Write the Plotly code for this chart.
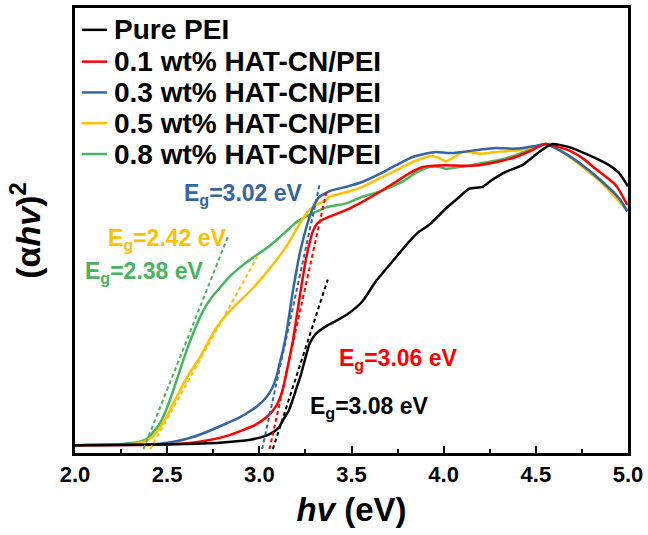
import plotly.graph_objects as go

# Tauc plot data: photon energy (eV) vs normalised (alpha*h*nu)^2
pei_x = [2.00, 2.30, 2.60, 2.80, 2.95, 3.03, 3.08, 3.11, 3.13, 3.16, 3.18, 3.205, 3.227, 3.25,
         3.272, 3.30, 3.326, 3.37, 3.417, 3.489, 3.561, 3.633, 3.723, 3.814, 3.868, 3.922,
         4.012, 4.08, 4.139, 4.211, 4.26, 4.337, 4.427, 4.518, 4.590, 4.680, 4.788, 4.897,
         4.95, 5.00]
pei_y = [0.000, 0.001, 0.004, 0.009, 0.018, 0.030, 0.045, 0.062, 0.085, 0.115, 0.149, 0.195,
         0.237, 0.290, 0.336, 0.365, 0.380, 0.398, 0.413, 0.440, 0.479, 0.545, 0.611, 0.677,
         0.710, 0.732, 0.786, 0.822, 0.852, 0.858, 0.880, 0.908, 0.930, 0.974, 1.000, 0.990,
         0.963, 0.930, 0.905, 0.860]

hat01_x = [2.00, 2.45, 2.55, 2.65, 2.731, 2.82, 2.911, 2.98, 3.038, 3.07, 3.10, 3.125, 3.146,
           3.164, 3.182, 3.20, 3.218, 3.236, 3.254, 3.272, 3.29, 3.308, 3.326, 3.381, 3.489,
           3.561, 3.65, 3.742, 3.82, 3.886, 4.012, 4.10, 4.193, 4.30, 4.391, 4.47, 4.554,
           4.680, 4.760, 4.824, 4.933, 4.996]
hat01_y = [0.000, 0.001, 0.004, 0.009, 0.017, 0.030, 0.050, 0.068, 0.093, 0.112, 0.140, 0.180,
           0.237, 0.290, 0.347, 0.418, 0.489, 0.558, 0.621, 0.670, 0.710, 0.731, 0.743, 0.759,
           0.786, 0.809, 0.840, 0.875, 0.905, 0.924, 0.930, 0.928, 0.930, 0.942, 0.957, 0.977,
           1.000, 0.979, 0.950, 0.918, 0.864, 0.798]

hat03_x = [2.00, 2.35, 2.46, 2.55, 2.64, 2.73, 2.821, 2.88, 2.93, 2.99, 3.038, 3.07, 3.092,
           3.11, 3.13, 3.146, 3.164, 3.182, 3.20, 3.218, 3.236, 3.254, 3.272, 3.29, 3.308,
           3.326, 3.381, 3.47, 3.561, 3.65, 3.742, 3.832, 3.90, 3.958, 4.03, 4.102, 4.20,
           4.283, 4.391, 4.50, 4.554, 4.644, 4.752, 4.86, 4.951, 4.996]
hat03_y = [0.000, 0.001, 0.005, 0.013, 0.027, 0.048, 0.072, 0.088, 0.105, 0.130, 0.159, 0.190,
           0.225, 0.270, 0.320, 0.369, 0.440, 0.512, 0.575, 0.633, 0.680, 0.721, 0.757, 0.787,
           0.810, 0.825, 0.844, 0.858, 0.875, 0.900, 0.930, 0.957, 0.968, 0.974, 0.970, 0.974,
           0.982, 0.987, 0.985, 0.994, 1.000, 0.974, 0.930, 0.875, 0.820, 0.776]

hat05_x = [2.00, 2.226, 2.30, 2.352, 2.39, 2.424, 2.46, 2.496, 2.53, 2.568, 2.62, 2.677, 2.72,
           2.767, 2.81, 2.857, 2.91, 2.965, 3.02, 3.074, 3.12, 3.164, 3.20, 3.236, 3.27, 3.309,
           3.363, 3.381, 3.47, 3.561, 3.65, 3.742, 3.83, 3.922, 3.97, 4.012, 4.06, 4.102,
           4.211, 4.30, 4.391, 4.47, 4.554, 4.644, 4.752, 4.86, 4.951, 4.996]
hat05_y = [0.000, 0.001, 0.003, 0.008, 0.016, 0.030, 0.058, 0.093, 0.135, 0.180, 0.238, 0.291,
           0.340, 0.390, 0.425, 0.456, 0.488, 0.522, 0.560, 0.600, 0.637, 0.677, 0.716, 0.753,
           0.780, 0.798, 0.814, 0.825, 0.840, 0.858, 0.885, 0.913, 0.940, 0.960, 0.955, 0.943,
           0.958, 0.974, 0.968, 0.975, 0.979, 0.988, 1.000, 0.974, 0.925, 0.870, 0.810, 0.780]

hat08_x = [2.00, 2.20, 2.28, 2.34, 2.388, 2.42, 2.46, 2.50, 2.532, 2.57, 2.605, 2.65, 2.695,
           2.74, 2.785, 2.839, 2.911, 2.97, 3.038, 3.10, 3.146, 3.20, 3.254, 3.29, 3.363,
           3.471, 3.56, 3.651, 3.777, 3.85, 3.922, 3.97, 4.012, 4.10, 4.193, 4.30, 4.391,
           4.47, 4.554, 4.644, 4.752, 4.86, 4.951, 4.996]
hat08_y = [0.000, 0.002, 0.006, 0.010, 0.020, 0.040, 0.072, 0.125, 0.180, 0.250, 0.314, 0.385,
           0.446, 0.490, 0.522, 0.560, 0.598, 0.625, 0.654, 0.685, 0.710, 0.740, 0.760, 0.770,
           0.790, 0.803, 0.825, 0.842, 0.875, 0.905, 0.924, 0.925, 0.918, 0.925, 0.935, 0.947,
           0.963, 0.982, 1.000, 0.974, 0.930, 0.875, 0.820, 0.780]

names = ["Pure PEI", "0.1 wt% HAT-CN/PEI", "0.3 wt% HAT-CN/PEI",
         "0.5 wt% HAT-CN/PEI", "0.8 wt% HAT-CN/PEI"]
colors = ["#000000", "#FF0000", "#3465A4", "#FFC000", "#47B55C"]
xs = [pei_x, hat01_x, hat03_x, hat05_x, hat08_x]
ys = [pei_y, hat01_y, hat03_y, hat05_y, hat08_y]

# Band-gap extrapolation: intercept Eg and slope of each tangent, plus its upper end
eg_values = [3.08, 3.06, 3.02, 2.42, 2.38]
tangent_slopes = [1.89, 2.77, 2.82, 1.10, 1.54]
tangent_x_end = [3.371, 3.363, 3.326, 2.99, 2.83]

# Eg label anchor positions (data coordinates, left-anchored)
label_x = [3.262, 3.419, 2.579, 2.168, 2.043]
label_y = [0.125, 0.286, 0.832, 0.683, 0.575]

FONT = "Liberation Sans, Arial, sans-serif"

fig = go.Figure()

# Curves, PEI drawn last so it sits on top
order = [4, 3, 2, 1, 0]
for i in order:
    fig.add_trace(go.Scatter(x=xs[i], y=ys[i], mode="lines", name=names[i],
                             line=dict(color=colors[i], width=2.5, shape="spline",
                                       smoothing=0.5),
                             showlegend=False))

for i in range(5):
    eg, k, xe = eg_values[i], tangent_slopes[i], tangent_x_end[i]
    xs0 = eg - 0.013 / k
    fig.add_trace(go.Scatter(x=[xs0, xe], y=[k * (xs0 - eg), k * (xe - eg)], mode="lines",
                             line=dict(color=colors[i], width=2, dash="4px,3px"),
                             showlegend=False, hoverinfo="skip"))
    fig.add_annotation(x=label_x[i], y=label_y[i], xref="x", yref="y",
                       text=f"E<sub>g</sub>={eg:.2f} eV", showarrow=False,
                       xanchor="left", yanchor="middle",
                       font=dict(family=FONT, size=23, color=colors[i], weight="bold"))

# Legend drawn in paper coordinates
W, H = 648, 535
ml, mr, mt, mb = 75, 19, 5, 82
pw, ph = W - ml - mr, H - mt - mb
legend_rows = [27, 59, 90, 121, 152]
for i in range(5):
    yp = 1 - (legend_rows[i] - mt) / ph
    fig.add_shape(type="line", xref="paper", yref="paper",
                  x0=(82 - ml) / pw, x1=(107 - ml) / pw, y0=yp, y1=yp,
                  line=dict(color=colors[i], width=2.5))
    fig.add_annotation(x=(112 - ml) / pw, y=yp, xref="paper", yref="paper",
                       text=names[i], showarrow=False, xanchor="left", yanchor="middle",
                       font=dict(family=FONT, size=28, color="black", weight="bold"))

fig.update_layout(
    width=W, height=H,
    margin=dict(l=ml, r=mr, t=mt, b=mb),
    paper_bgcolor="white", plot_bgcolor="white",
    showlegend=False,
    font=dict(family=FONT, color="black"),
)
fig.update_xaxes(
    range=[2.0, 5.0], dtick=0.5, tick0=2.0, tickformat=".1f",
    ticks="inside", ticklen=7, tickwidth=2, tickcolor="black",
    minor=dict(dtick=0.25, ticks="inside", ticklen=4, tickwidth=2, tickcolor="black"),
    showline=True, linewidth=2.5, linecolor="black", mirror=True,
    showgrid=False, zeroline=False,
    tickfont=dict(family=FONT, size=22, color="black", weight="bold"),
    title=dict(text="<i>hv</i> (eV)", standoff=12,
               font=dict(family=FONT, size=33, color="black", weight="bold")),
)
fig.update_yaxes(
    range=[-0.026, 1.452], showticklabels=False, ticks="",
    showline=True, linewidth=2.5, linecolor="black", mirror=True,
    showgrid=False, zeroline=False,
    title=dict(text="(α<i>hv</i>)<sup>2</sup>", standoff=22,
               font=dict(family=FONT, size=34, color="black", weight="bold")),
)

fig.write_html("out.html")
